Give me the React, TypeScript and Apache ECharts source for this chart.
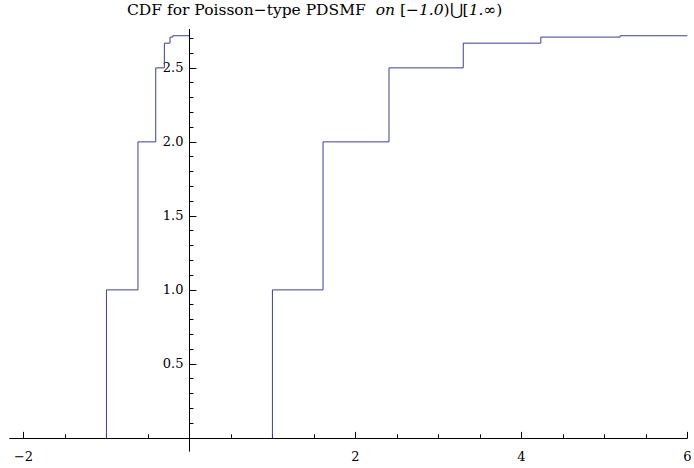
import React, { useEffect, useRef } from "react";
import * as echarts from "echarts";

// CDF levels (partial sums of 1/k!)
const cdfLevels = [1, 2, 2.5, 2.667, 2.708, 2.717];
// jump positions on the right branch [1, ∞)
const rightSteps = [1, 1.61, 2.405, 3.3, 4.235, 5.19];
const rightEnd = 6;
// jump positions on the left branch [-1, 0)
const leftSteps = [-1, -0.62, -0.406, -0.302, -0.234, -0.2];
const leftEnd = -0.005;

const xMajorTicks = [-2, 2, 4, 6];
const xMinorTicks = [-2, -1.5, -1, -0.5, 0.5, 1, 1.5, 2, 2.5, 3, 3.5, 4, 4.5, 5, 5.5, 6];
const yMajorTicks = [0.5, 1, 1.5, 2, 2.5];
const yMinorTicks = [
  0.1, 0.2, 0.3, 0.4, 0.5, 0.6, 0.7, 0.8, 0.9, 1, 1.1, 1.2, 1.3, 1.4, 1.5, 1.6, 1.7, 1.8, 1.9, 2,
  2.1, 2.2, 2.3, 2.4, 2.5, 2.6, 2.7,
];

const FONT = "DejaVu Serif";
const LINE_COLOR = "#3d3d99";

function buildBranch(steps: number[], end: number): number[][] {
  const pts: number[][] = [[steps[0], 0]];
  steps.forEach((x, i) => pts.push([x, cdfLevels[i]]));
  pts.push([end, cdfLevels[cdfLevels.length - 1]]);
  return pts;
}

const W = 694;
const H = 468;
const X_MIN = -2.166;
const X_MAX = 6;
const Y_MIN = -0.09;
const Y_MAX = 2.76;
const G_LEFT = 9.7;
const G_RIGHT = 6.7;
const G_TOP = 29.4;
const G_BOTTOM = 16.8;

export default function App() {
  const ref = useRef<HTMLDivElement>(null);
  useEffect(() => {
    if (!ref.current) return;
    const chart = echarts.init(ref.current, undefined, { renderer: "svg" });
    const gw = W - G_LEFT - G_RIGHT;
    const gh = H - G_TOP - G_BOTTOM;
    // move the axes from the grid edges onto the zero lines
    const yAxisShift = -((0 - X_MIN) / (X_MAX - X_MIN)) * gw;
    const xAxisShift = -((0 - Y_MIN) / (Y_MAX - Y_MIN)) * gh;
    const xBase = {
      type: "value" as const,
      min: X_MIN,
      max: X_MAX,
      position: "bottom" as const,
      offset: xAxisShift,
      splitLine: { show: false },
    };
    const yBase = {
      type: "value" as const,
      min: Y_MIN,
      max: Y_MAX,
      position: "left" as const,
      offset: yAxisShift,
      splitLine: { show: false },
    };
    chart.setOption({
      animation: false,
      backgroundColor: "#ffffff",
      textStyle: { fontFamily: FONT },
      title: {
        text: "{a|CDF for Poisson−type PDSMF  }{i|on }{a|[−}{i|1.0}{a|)⋃[}{i|1.∞}{a|)}",
        left: 127,
        top: 2,
        padding: 0,
        textStyle: {
          fontWeight: "normal",
          fontFamily: FONT,
          fontSize: 15.5,
          rich: {
            a: { fontFamily: FONT, fontSize: 15.5, fontWeight: "normal", color: "#000" },
            i: { fontFamily: FONT, fontSize: 15.5, fontWeight: "normal", fontStyle: "italic", color: "#000" },
          },
        },
      },
      grid: {
        left: G_LEFT,
        right: G_RIGHT,
        top: G_TOP,
        bottom: G_BOTTOM,
        containLabel: false,
        outerBoundsMode: "none",
      },
      xAxis: [
        {
          ...xBase,
          axisLine: { show: true, onZero: false, lineStyle: { color: "#000", width: 1 } },
          axisTick: { show: true, inside: true, length: 6, customValues: xMajorTicks, lineStyle: { color: "#000" } },
          axisLabel: {
            show: true,
            customValues: xMajorTicks,
            margin: 12,
            color: "#000",
            fontFamily: FONT,
            fontSize: 13,
            formatter: (v: number) => (v < 0 ? "−" + Math.abs(v) : String(v)),
          },
        },
        {
          ...xBase,
          axisLine: { show: false, onZero: false },
          axisTick: { show: true, inside: true, length: 3.5, customValues: xMinorTicks, lineStyle: { color: "#000" } },
          axisLabel: { show: false },
        },
      ],
      yAxis: [
        {
          ...yBase,
          axisLine: { show: true, onZero: false, lineStyle: { color: "#000", width: 1 } },
          axisTick: { show: true, inside: true, length: 7, customValues: yMajorTicks, lineStyle: { color: "#000" } },
          axisLabel: {
            show: true,
            customValues: yMajorTicks,
            margin: 6,
            color: "#000",
            fontFamily: FONT,
            fontSize: 13,
            formatter: (v: number) => v.toFixed(1),
          },
        },
        {
          ...yBase,
          axisLine: { show: false, onZero: false },
          axisTick: { show: true, inside: true, length: 4, customValues: yMinorTicks, lineStyle: { color: "#000" } },
          axisLabel: { show: false },
        },
      ],
      series: [
        {
          type: "line",
          step: "end",
          xAxisIndex: 0,
          yAxisIndex: 0,
          data: buildBranch(leftSteps, leftEnd),
          showSymbol: false,
          lineStyle: { color: LINE_COLOR, width: 1 },
          silent: true,
        },
        {
          type: "line",
          step: "end",
          xAxisIndex: 0,
          yAxisIndex: 0,
          data: buildBranch(rightSteps, rightEnd),
          showSymbol: false,
          lineStyle: { color: LINE_COLOR, width: 1 },
          silent: true,
        },
      ],
    });
    return () => chart.dispose();
  }, []);
  return (
    <div
      ref={ref}
      style={{ position: "fixed", left: 0, top: 0, width: W, height: H, background: "#fff" }}
    />
  );
}
